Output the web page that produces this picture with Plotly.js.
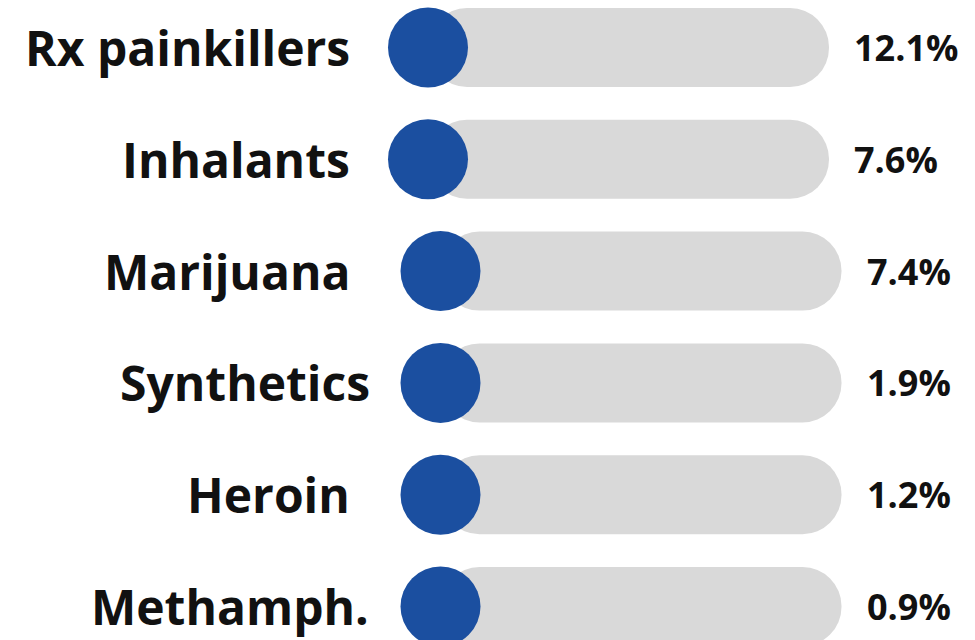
<!DOCTYPE html>
<html>
<head>
<meta charset="utf-8">
<script src="https://cdn.plot.ly/plotly-3.0.1.min.js"></script>
<style>html,body{margin:0;padding:0;background:#fff;}#chart{width:975px;height:640px;}</style>
</head>
<body>
<div id="chart"></div>
<script>
// ---- data ----
const categories = ['Rx painkillers', 'Inhalants', 'Marijuana', 'Synthetics', 'Heroin', 'Methamph.'];
const values = [12.1, 7.6, 7.4, 1.9, 1.2, 0.9];
const valueLabels = values.map(v => v.toFixed(1) + '%');

// ---- layout constants (pixel-based x axis: 1 unit = 1 px) ----
const W = 975, H = 640;
const rowIndent = [0, 0, 12.5, 12.5, 12.5, 12.5];   // infographic quirk: lower rows sit slightly right
const trackStart0 = 428;     // centre of blue dot, row 1
const trackLen = 401;        // dot centre to right end of grey pill
const dotSize = 80;
const labelEdge = [352, 352, 352, 372, 352, 371];
const valueGap = 23;
const rowPx0 = 47.5, rowPxLast = 606.5;
const step = (rowPxLast - rowPx0) / (categories.length - 1);
const yRange = [ (categories.length - 1) + (H - rowPxLast) / step, -rowPx0 / step ];
const barThick = 79 / step;

const starts = rowIndent.map(d => trackStart0 + d);

const track = {
  type: 'bar', orientation: 'h',
  y: categories, x: categories.map(() => trackLen), base: starts,
  width: barThick,
  marker: {color: '#d9d9d9', cornerradius: '50%', line: {width: 0}},
  hoverinfo: 'skip'
};
const dots = {
  type: 'scatter', mode: 'markers',
  y: categories, x: starts,
  marker: {size: dotSize, color: '#1b4fa0', line: {width: 0}},
  hoverinfo: 'skip'
};

const annotations = [];
categories.forEach((c, i) => {
  annotations.push({
    x: labelEdge[i], y: c, xref: 'x', yref: 'y',
    text: c, showarrow: false, xanchor: 'right', yanchor: 'middle',
    font: {family: 'Open Sans', size: 48, color: '#111111', weight: 700}
  });
  annotations.push({
    x: starts[i] + trackLen + valueGap, y: c, xref: 'x', yref: 'y',
    text: valueLabels[i], showarrow: false, xanchor: 'left', yanchor: 'middle',
    font: {family: 'Open Sans', size: 36, color: '#111111', weight: 700}
  });
});

const layout = {
  width: W, height: H,
  margin: {l: 0, r: 0, t: 0, b: 0, pad: 0},
  paper_bgcolor: '#ffffff', plot_bgcolor: '#ffffff',
  showlegend: false,
  xaxis: {range: [0, W], visible: false, fixedrange: true},
  yaxis: {type: 'category', categoryorder: 'array', categoryarray: categories,
          range: yRange, visible: false, fixedrange: true},
  annotations: annotations,
  hovermode: false
};

Plotly.newPlot('chart', [track, dots], layout, {displayModeBar: false, staticPlot: true});
</script>
</body>
</html>
